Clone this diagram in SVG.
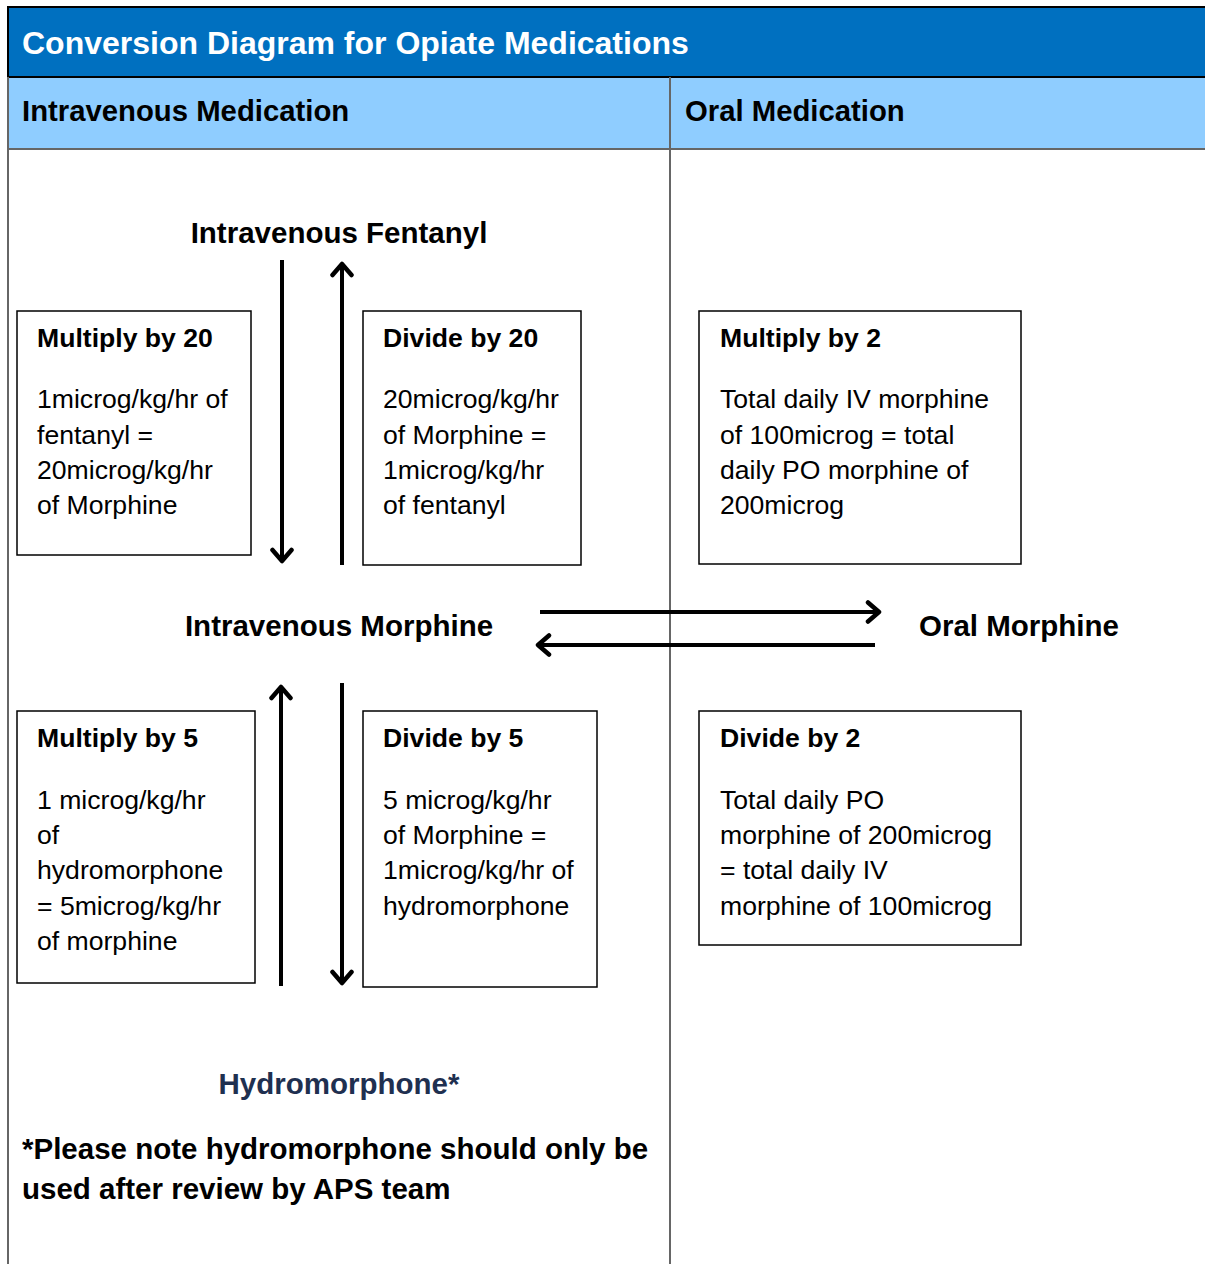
<svg xmlns="http://www.w3.org/2000/svg" width="1205" height="1264" viewBox="0 0 1205 1264">
<style>
.t{font-family:"Liberation Sans",Arial,sans-serif;fill:#000}
.b{font-weight:bold}
.body{font-size:26.6px}
.lbl{font-size:29.5px;font-weight:bold}
.box{fill:#fff;stroke:#000;stroke-width:1.5}
.arr{stroke:#000;stroke-width:4;fill:none;marker-end:url(#ah)}
</style>
<defs>
<marker id="ah" viewBox="0 0 24 24" markerWidth="24" markerHeight="24" refX="14" refY="12" orient="auto" markerUnits="userSpaceOnUse">
<path d="M3,2.5 L14,12 L3,21.5" fill="none" stroke="#000" stroke-width="4.5" stroke-linecap="round" stroke-linejoin="round"/>
</marker>
</defs>
<rect width="1205" height="1264" fill="#fff"/>
<g id="header">
<rect x="8" y="7" width="1197" height="70" fill="#0070C0"/>
<rect x="8" y="77" width="1197" height="72" fill="#8FCDFF"/>
<line x1="8" y1="7" x2="1205" y2="7" stroke="#000" stroke-width="2"/>
<line x1="8" y1="77" x2="1205" y2="77" stroke="#000" stroke-width="2"/>
<line x1="8" y1="6" x2="8" y2="77" stroke="#000" stroke-width="2"/>
<line x1="8" y1="77" x2="8" y2="1264" stroke="#666" stroke-width="2"/>
<line x1="8" y1="149" x2="1205" y2="149" stroke="#666" stroke-width="2"/>
<line x1="670" y1="77" x2="670" y2="1264" stroke="#666" stroke-width="2"/>
<text x="22" y="54" class="t b" style="font-size:32px;fill:#fff">Conversion Diagram for Opiate Medications</text>
<text x="22" y="121" class="t b" style="font-size:29.3px">Intravenous Medication</text>
<text x="685" y="121" class="t b" style="font-size:29.3px">Oral Medication</text>
</g>
<g id="connectors">
<line class="arr" x1="282" y1="260" x2="282" y2="561"/>
<line class="arr" x1="342" y1="565" x2="342" y2="264"/>
<line class="arr" x1="540" y1="612" x2="879" y2="612"/>
<line class="arr" x1="875" y1="645" x2="538" y2="645"/>
<line class="arr" x1="281" y1="986" x2="281" y2="687"/>
<line class="arr" x1="342" y1="683" x2="342" y2="983"/>
</g>
<g id="ivFentanyl"><text x="339" y="243" text-anchor="middle" class="t lbl">Intravenous Fentanyl</text></g>
<g id="ivMorphine"><text x="339" y="636" text-anchor="middle" class="t lbl">Intravenous Morphine</text></g>
<g id="oralMorphine"><text x="1019" y="636" text-anchor="middle" class="t lbl">Oral Morphine</text></g>
<g id="hydromorphone"><text x="339" y="1094" text-anchor="middle" class="t lbl" style="fill:#1F3050">Hydromorphone*</text></g>
<g id="note">
<text x="22" y="1159" class="t lbl">*Please note hydromorphone should only be</text>
<text x="22" y="1199" class="t lbl">used after review by APS team</text>
</g>
<g id="box1">
<rect class="box" x="17" y="311" width="234" height="244"/>
<text x="37" y="347" class="t b body">Multiply by 20</text>
<text x="37" y="408" class="t body">1microg/kg/hr of</text>
<text x="37" y="444" class="t body">fentanyl =</text>
<text x="37" y="479" class="t body">20microg/kg/hr</text>
<text x="37" y="514" class="t body">of Morphine</text>
</g>
<g id="box2">
<rect class="box" x="363" y="311" width="218" height="254"/>
<text x="383" y="347" class="t b body">Divide by 20</text>
<text x="383" y="408" class="t body">20microg/kg/hr</text>
<text x="383" y="444" class="t body">of Morphine =</text>
<text x="383" y="479" class="t body">1microg/kg/hr</text>
<text x="383" y="514" class="t body">of fentanyl</text>
</g>
<g id="box3">
<rect class="box" x="699" y="311" width="322" height="253"/>
<text x="720" y="347" class="t b body">Multiply by 2</text>
<text x="720" y="408" class="t body">Total daily IV morphine</text>
<text x="720" y="444" class="t body">of 100microg = total</text>
<text x="720" y="479" class="t body">daily PO morphine of</text>
<text x="720" y="514" class="t body">200microg</text>
</g>
<g id="box4">
<rect class="box" x="17" y="711" width="238" height="272"/>
<text x="37" y="747" class="t b body">Multiply by 5</text>
<text x="37" y="809" class="t body">1 microg/kg/hr</text>
<text x="37" y="844" class="t body">of</text>
<text x="37" y="879" class="t body">hydromorphone</text>
<text x="37" y="915" class="t body">= 5microg/kg/hr</text>
<text x="37" y="950" class="t body">of morphine</text>
</g>
<g id="box5">
<rect class="box" x="363" y="711" width="234" height="276"/>
<text x="383" y="747" class="t b body">Divide by 5</text>
<text x="383" y="809" class="t body">5 microg/kg/hr</text>
<text x="383" y="844" class="t body">of Morphine =</text>
<text x="383" y="879" class="t body">1microg/kg/hr of</text>
<text x="383" y="915" class="t body">hydromorphone</text>
</g>
<g id="box6">
<rect class="box" x="699" y="711" width="322" height="234"/>
<text x="720" y="747" class="t b body">Divide by 2</text>
<text x="720" y="809" class="t body">Total daily PO</text>
<text x="720" y="844" class="t body">morphine of 200microg</text>
<text x="720" y="879" class="t body">= total daily IV</text>
<text x="720" y="915" class="t body">morphine of 100microg</text>
</g>
</svg>
